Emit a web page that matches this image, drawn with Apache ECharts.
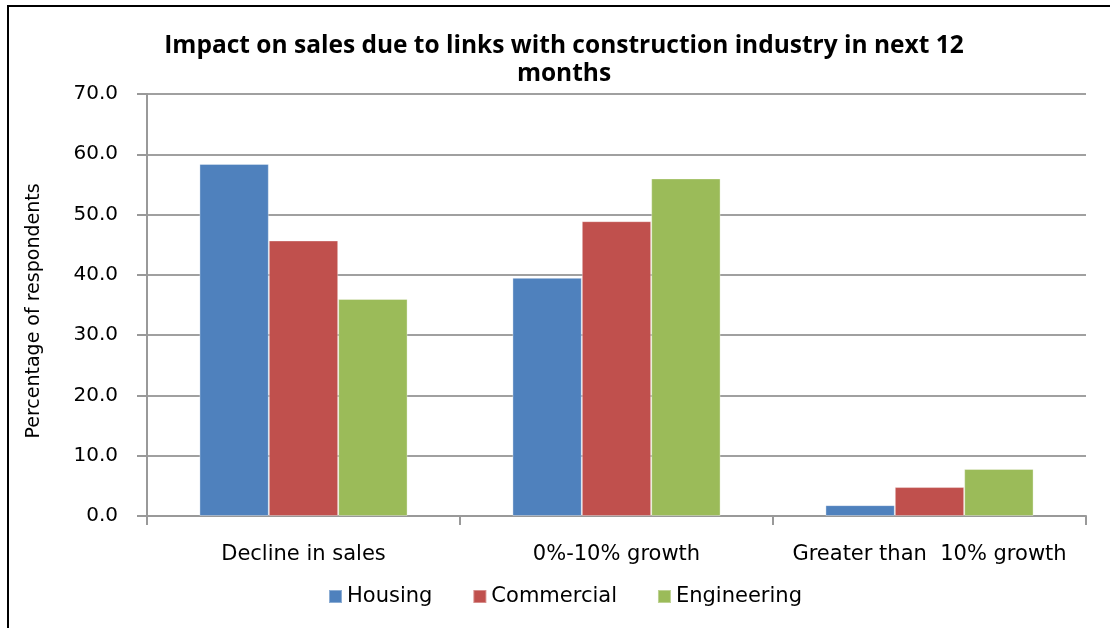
<!DOCTYPE html>
<html>
<head>
<meta charset="utf-8">
<script src="https://cdn.jsdelivr.net/npm/echarts@6/dist/echarts.min.js"></script>
<style>
html,body{margin:0;padding:0;background:#fff;}
#chart{width:1110px;height:628px;}
</style>
</head>
<body>
<div id="chart"></div>
<script>
const titleText = "Impact on sales due to links with construction industry in next 12\nmonths";
const yAxisName = "Percentage of respondents";
const categories = ["Decline in sales", "0%-10% growth", "Greater than  10% growth"];
const seriesNames = ["Housing", "Commercial", "Engineering"];
const housing = [58.4, 39.5, 1.8];
const commercial = [45.7, 48.9, 4.8];
const engineering = [36.0, 56.0, 7.8];
const colors = ["#4F81BD", "#C0504D", "#9BBB59"];
const yMin = 0, yMax = 70, yStep = 10;

const chart = echarts.init(document.getElementById('chart'), null, {renderer: 'canvas'});
const seriesData = [housing, commercial, engineering];

chart.setOption({
  animation: false,
  backgroundColor: '#ffffff',
  title: {
    text: titleText,
    left: 559,
    textAlign: 'center',
    top: 27,
    padding: 5,
    textStyle: {
      fontFamily: 'Open Sans',
      fontWeight: 'bold',
      fontSize: 24.5,
      lineHeight: 28,
      color: '#000000'
    }
  },
  legend: {
    data: seriesNames,
    left: 323,
    top: 581,
    itemWidth: 13,
    itemHeight: 13,
    itemGap: 40,
    icon: 'rect',
    textStyle: {
      fontFamily: 'DejaVu Sans',
      fontSize: 21,
      color: '#000000'
    }
  },
  grid: {
    left: 147,
    right: 24,
    top: 94,
    bottom: 112,
    containLabel: false
  },
  xAxis: {
    type: 'category',
    data: categories,
    axisLine: {lineStyle: {color: '#999999', width: 2}},
    axisTick: {show: true, interval: 0, length: 9, lineStyle: {color: '#999999', width: 2}},
    axisLabel: {
      interval: 0,
      margin: 28,
      fontFamily: 'DejaVu Sans',
      fontSize: 21,
      color: '#000000'
    }
  },
  yAxis: {
    type: 'value',
    min: yMin,
    max: yMax,
    interval: yStep,
    name: yAxisName,
    nameLocation: 'middle',
    nameGap: 103,
    nameRotate: 90,
    nameTextStyle: {
      fontFamily: 'DejaVu Sans',
      fontSize: 19,
      color: '#000000',
      padding: [0, 12, 0, 0]
    },
    axisLine: {show: true, lineStyle: {color: '#999999', width: 2}},
    axisTick: {show: true, length: 10, lineStyle: {color: '#999999', width: 2}},
    axisLabel: {
      margin: 29,
      fontFamily: 'DejaVu Sans',
      fontSize: 20,
      color: '#000000',
      formatter: function (v) { return v.toFixed(1); }
    },
    splitLine: {show: true, lineStyle: {color: '#a0a0a0', width: 2}}
  },
  series: seriesNames.map(function (name, i) {
    return {
      name: name,
      type: 'bar',
      data: seriesData[i],
      barGap: '0%',
      barCategoryGap: '33.5%',
      itemStyle: {color: colors[i], borderColor: 'rgba(255,255,255,0.35)', borderWidth: 1}
    };
  }),
  graphic: [
    {type: 'line', shape: {x1: 8, y1: 6, x2: 8, y2: 628}, style: {stroke: '#000000', lineWidth: 2}},
    {type: 'line', shape: {x1: 7, y1: 6, x2: 1110, y2: 6}, style: {stroke: '#000000', lineWidth: 2}}
  ]
});
</script>
</body>
</html>
